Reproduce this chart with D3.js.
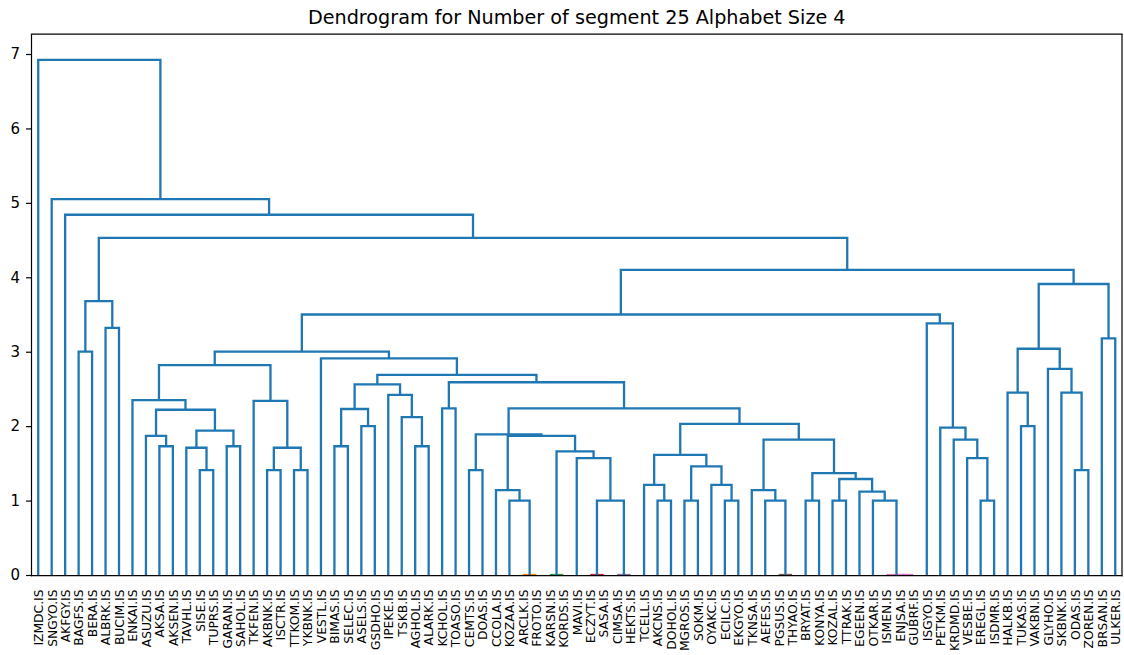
<!DOCTYPE html>
<html>
<head>
<meta charset="utf-8">
<script src="https://cdn.jsdelivr.net/npm/d3@7"></script>
<style>
  html, body { margin: 0; padding: 0; background: #ffffff; }
  svg { display: block; }
  text { font-family: "DejaVu Sans", sans-serif; fill: #000; }
</style>
</head>
<body>
<svg id="chart" width="1124" height="655"></svg>
<script>
// ---------------- data ----------------
const chartTitle = "Dendrogram for Number of segment 25 Alphabet Size 4";

const leaves = [
  "IZMDC.IS","SNGYO.IS","AKFGY.IS","BAGFS.IS","BERA.IS","ALBRK.IS","BUCIM.IS","ENKAI.IS","ASUZU.IS","AKSA.IS",
  "AKSEN.IS","TAVHL.IS","SISE.IS","TUPRS.IS","GARAN.IS","SAHOL.IS","TKFEN.IS","AKBNK.IS","ISCTR.IS","TTKOM.IS",
  "YKBNK.IS","VESTL.IS","BIMAS.IS","SELEC.IS","ASELS.IS","GSDHO.IS","IPEKE.IS","TSKB.IS","AGHOL.IS","ALARK.IS",
  "KCHOL.IS","TOASO.IS","CEMTS.IS","DOAS.IS","CCOLA.IS","KOZAA.IS","ARCLK.IS","FROTO.IS","KARSN.IS","KORDS.IS",
  "MAVI.IS","ECZYT.IS","SASA.IS","CIMSA.IS","HEKTS.IS","TCELL.IS","AKCNS.IS","DOHOL.IS","MGROS.IS","SOKM.IS",
  "OYAKC.IS","ECILC.IS","EKGYO.IS","TKNSA.IS","AEFES.IS","PGSUS.IS","THYAO.IS","BRYAT.IS","KONYA.IS","KOZAL.IS",
  "TTRAK.IS","EGEEN.IS","OTKAR.IS","ISMEN.IS","ENJSA.IS","GUBRF.IS","ISGYO.IS","PETKM.IS","KRDMD.IS","VESBE.IS",
  "EREGL.IS","ISDMR.IS","HALKB.IS","TUKAS.IS","VAKBN.IS","GLYHO.IS","SKBNK.IS","ODAS.IS","ZOREN.IS","BRSAN.IS",
  "ULKER.IS"
];

// Linkage: child = leaf name (string) or index of an earlier merge (number)
const mergeLeft = [
  "ARCLK.IS","KARSN.IS","ECZYT.IS","CIMSA.IS","PGSUS.IS","ENJSA.IS","ISMEN.IS","KOZAA.IS",2,"AKCNS.IS",
  "MGROS.IS","ECILC.IS","AEFES.IS","BRYAT.IS","KOZAL.IS","OTKAR.IS","EREGL.IS","EGEEN.IS","CCOLA.IS","TKNSA.IS",
  "TCELL.IS","OYAKC.IS",14,13,"SISE.IS","AKBNK.IS","TTKOM.IS","CEMTS.IS","ODAS.IS",10,
  "MAVI.IS","VESBE.IS",20,1,"TAVHL.IS",25,"AKSA.IS","GARAN.IS","BIMAS.IS","AGHOL.IS",
  19,"KRDMD.IS","ASUZU.IS",18,27,34,"PETKM.IS","ASELS.IS","TUKAS.IS",32,
  "TSKB.IS",42,38,"KCHOL.IS",44,"TKFEN.IS","ENKAI.IS","IPEKE.IS","HALKB.IS","SKBNK.IS",
  52,53,60,"GLYHO.IS",56,"VESTL.IS","BAGFS.IS",64,58,"BRSAN.IS",
  "ALBRK.IS","ISGYO.IS",67,66,68,72,73,"AKFGY.IS","SNGYO.IS","IZMDC.IS"
];
const mergeRight = [
  "FROTO.IS","KORDS.IS","SASA.IS","HEKTS.IS","THYAO.IS","GUBRF.IS",5,0,3,"DOHOL.IS",
  "SOKM.IS","EKGYO.IS",4,"KONYA.IS","TTRAK.IS",6,"ISDMR.IS",15,7,12,
  9,11,17,22,"TUPRS.IS","ISCTR.IS","YKBNK.IS","DOAS.IS","ZOREN.IS",21,
  8,16,29,30,24,26,"AKSEN.IS","SAHOL.IS","SELEC.IS","ALARK.IS",
  23,31,36,33,43,37,41,"GSDHO.IS","VAKBN.IS",40,
  39,45,47,"TOASO.IS",49,35,51,50,48,28,
  57,54,61,59,55,62,"BERA.IS",65,63,"ULKER.IS",
  "BUCIM.IS",46,71,70,69,74,75,76,77,78
];
const mergeHeight = [
  0, 0, 0, 0, 0, 0, 0, 1.0, 1.0, 1.0,
  1.0, 1.0, 1.0, 1.0, 1.0, 1.0, 1.0, 1.12, 1.14, 1.14,
  1.21, 1.21, 1.29, 1.37, 1.41, 1.41, 1.41, 1.41, 1.41, 1.46,
  1.57, 1.57, 1.615, 1.66, 1.71, 1.71, 1.73, 1.73, 1.73, 1.73,
  1.82, 1.82, 1.87, 1.87, 1.89, 1.94, 1.98, 2.0, 2.0, 2.03,
  2.12, 2.22, 2.23, 2.24, 2.24, 2.34, 2.35, 2.42, 2.45, 2.45,
  2.56, 2.59, 2.69, 2.77, 2.82, 2.91, 3.0, 3.0, 3.04, 3.18,
  3.32, 3.38, 3.5, 3.68, 3.91, 4.10, 4.53, 4.84, 5.05, 6.92
];
const yTicks = [0, 1, 2, 3, 4, 5, 6, 7];
const colorThreshold = 0.5;
const aboveColor = "#1f77b4";
const clusterPalette = ["#ff7f0e", "#2ca02c", "#d62728", "#9467bd", "#8c564b", "#e377c2", "#7f7f7f", "#bcbd22", "#17becf"];

// ---------------- layout ----------------
const svg = d3.select("#chart");
const plot = { left: 31.5, right: 1122, top: 34.2, bottom: 575 };
const nLeaves = leaves.length;
const maxH = d3.max(mergeHeight);

const x = d3.scaleLinear().domain([0, nLeaves * 10]).range([plot.left, plot.right]);
const y = d3.scaleLinear().domain([0, maxH * 1.05]).range([plot.bottom, plot.top]);

const leafIndex = new Map(leaves.map((d, i) => [d, i]));
const nodeX = new Array(mergeHeight.length);
function childPos(c) {
  if (typeof c === "string") return { xv: leafIndex.get(c) * 10 + 5, h: 0 };
  return { xv: nodeX[c], h: mergeHeight[c] };
}
mergeHeight.forEach((h, i) => {
  const a = childPos(mergeLeft[i]), b = childPos(mergeRight[i]);
  nodeX[i] = (a.xv + b.xv) / 2;
});

// colour assignment (scipy style, left-to-right traversal)
const linkColor = new Array(mergeHeight.length).fill(aboveColor);
let paletteIdx = 0;
function assign(node, color) {
  let c = color;
  if (c === null && mergeHeight[node] < colorThreshold) {
    c = clusterPalette[paletteIdx % clusterPalette.length];
    paletteIdx++;
  }
  linkColor[node] = c === null ? aboveColor : c;
  [mergeLeft[node], mergeRight[node]].forEach(ch => {
    if (typeof ch === "number") assign(ch, c);
  });
}
assign(mergeHeight.length - 1, null);

// ---------------- drawing ----------------
svg.append("defs").append("clipPath").attr("id", "plotclip")
  .append("rect")
  .attr("x", plot.left).attr("y", plot.top)
  .attr("width", plot.right - plot.left).attr("height", plot.bottom - plot.top);

// title
svg.append("text")
  .attr("x", (plot.left + plot.right) / 2)
  .attr("y", 24)
  .attr("text-anchor", "middle")
  .style("font-size", "19.2px")
  .text(chartTitle);

// links
const links = svg.append("g").attr("clip-path", "url(#plotclip)");
mergeHeight.forEach((h, i) => {
  const a = childPos(mergeLeft[i]), b = childPos(mergeRight[i]);
  const p = d3.path();
  p.moveTo(x(a.xv), y(a.h));
  p.lineTo(x(a.xv), y(h));
  p.lineTo(x(b.xv), y(h));
  p.lineTo(x(b.xv), y(b.h));
  links.append("path")
    .attr("d", p.toString())
    .attr("fill", "none")
    .attr("stroke", linkColor[i])
    .attr("stroke-width", 2.3)
    .attr("stroke-linejoin", "miter");
});

// y axis
const yAxis = d3.axisLeft(y).tickValues(yTicks).tickFormat(d3.format("d")).tickSize(5.5).tickPadding(6);
const gy = svg.append("g").attr("transform", `translate(${plot.left},0)`).call(yAxis);
gy.select(".domain").remove();
gy.selectAll(".tick line").attr("stroke", "#000").attr("stroke-width", 1.2);
gy.selectAll(".tick text").style("font-size", "15px").style("font-family", "DejaVu Sans, sans-serif");

// x labels (leaf labels), rotated
const xAxis = d3.axisBottom(x)
  .tickValues(leaves.map((d, i) => i * 10 + 5))
  .tickFormat((d, i) => leaves[i])
  .tickSize(0);
const gx = svg.append("g").attr("transform", `translate(0,${plot.bottom})`).call(xAxis);
gx.select(".domain").remove();
gx.selectAll(".tick text")
  .attr("transform", "rotate(-90)")
  .attr("x", -14.5)
  .attr("y", 0)
  .attr("dy", "0.35em")
  .attr("text-anchor", "end")
  .style("font-size", "12.3px")
  .style("font-family", "DejaVu Sans, sans-serif");

// frame (spines)
const spines = svg.append("g").attr("stroke", "#000").attr("stroke-width", 1.2).attr("fill", "none");
spines.append("line").attr("x1", plot.left).attr("x2", plot.left).attr("y1", plot.top).attr("y2", plot.bottom + 1.2);
spines.append("line").attr("x1", plot.right).attr("x2", plot.right).attr("y1", plot.top).attr("y2", plot.bottom + 1.2);
spines.append("line").attr("x1", plot.left - 0.6).attr("x2", plot.right + 0.6).attr("y1", plot.top).attr("y2", plot.top);
spines.append("line").attr("x1", plot.left - 0.6).attr("x2", plot.right + 0.6).attr("y1", plot.bottom + 0.6).attr("y2", plot.bottom + 0.6);
</script>
</body>
</html>
